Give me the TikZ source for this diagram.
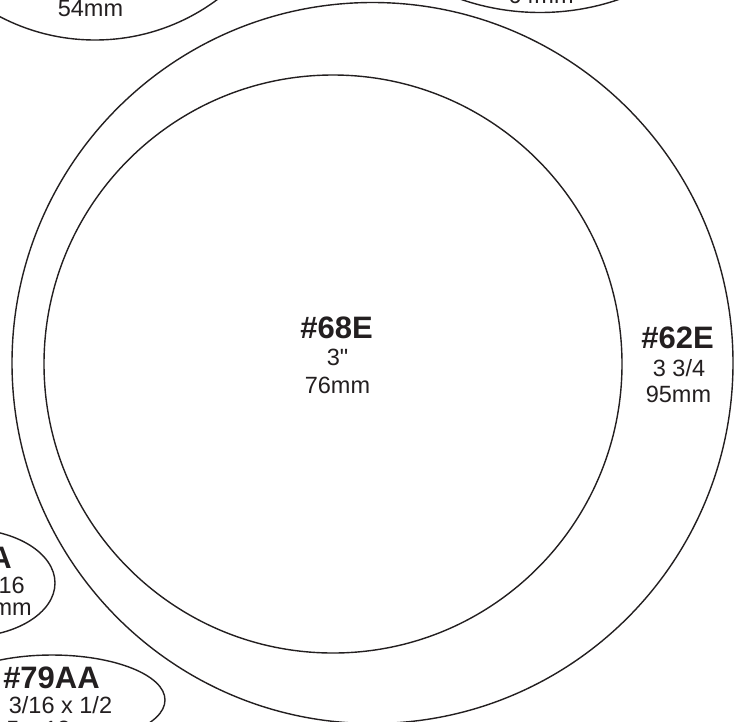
\documentclass[tikz,border=0pt]{standalone}
\usepackage{fontspec}
\setmainfont{Liberation Sans}[Ligatures=TeXOff]
\usetikzlibrary{shapes.geometric}
\definecolor{ink}{RGB}{35,31,32}
\begin{document}
\begin{tikzpicture}[x=1pt,y=-1pt,
  pad/.style={draw=ink, circle, line width=1.4pt, inner sep=0pt, minimum size=#1},
  oval/.style={draw=ink, ellipse, line width=1.4pt, inner sep=0pt},
  bigt/.style={text=ink, font=\fontsize{31}{31}\selectfont\bfseries, inner sep=0pt},
  smallt/.style={text=ink, font=\fontsize{23.5}{23.5}\selectfont, inner sep=0pt}]
\clip (0,0) rectangle (743,721);
\fill[white] (0,0) rectangle (743,721);
% pads
\node[pad=721pt] (p62) at (372.5,363) {};
\node[pad=578pt] (p68) at (333,364) {};
\node[pad=410pt] (ptl) at (95,-165) {};
\node[pad=486pt] (ptr) at (540,-230.5) {};
\node[oval, minimum width=176pt, minimum height=108pt] (p78) at (-33,583) {};
\node[oval, minimum width=226pt, minimum height=90pt] (p79) at (52,700) {};
% labels
\node[bigt, anchor=base] (l68a) at (336.5,338) {\#68E};
\node[smallt, anchor=base] (l68b) at (337.5,365) {3"};
\node[smallt, anchor=base] (l68c) at (337.5,393) {76mm};
\node[bigt, anchor=base] (l62a) at (677.5,348) {\#62E};
\node[smallt, anchor=base] (l62b) at (679,376) {3 3/4};
\node[smallt, anchor=base] (l62c) at (678.5,402) {95mm};
\node[smallt, anchor=base] (ltl) at (90.5,16) {54mm};
\node[smallt, anchor=base] (ltr) at (541,3) {64mm};
\node[bigt, anchor=base east] (l78a) at (12,568) {\#78A};
\node[smallt, anchor=base east] (l78b) at (25,593) {1/8 x 5/16};
\node[smallt, anchor=base east] (l78c) at (32,615) {3 x 8mm};
\node[bigt, anchor=base] (l79a) at (51.5,688) {\#79AA};
\node[smallt, anchor=base] (l79b) at (60.5,713) {3/16 x 1/2};
\node[smallt, anchor=base] (l79c) at (58,737) {5 x 13mm};
\end{tikzpicture}
\end{document}
